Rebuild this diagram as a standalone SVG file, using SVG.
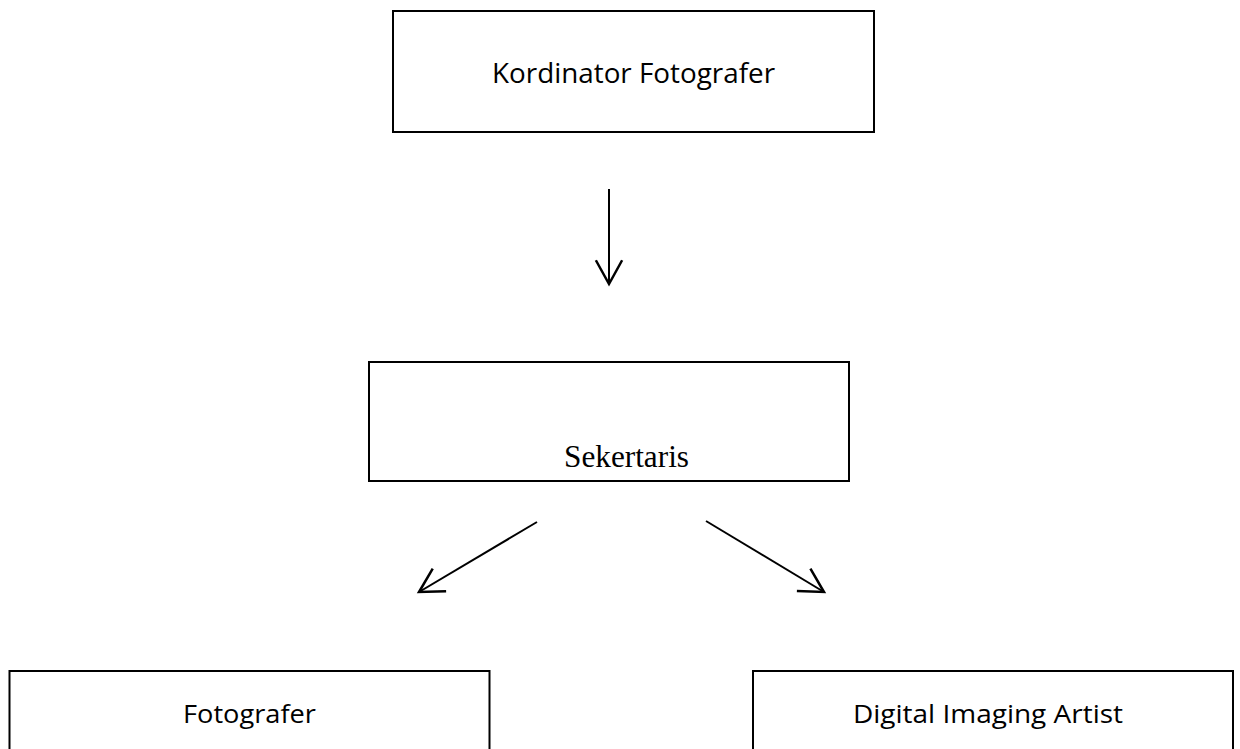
<svg xmlns="http://www.w3.org/2000/svg" width="1240" height="749" viewBox="0 0 1240 749">
  <style>
    .box { fill: #ffffff; stroke: #000000; stroke-width: 2; }
    .sans { font-family: "Open Sans", "Liberation Sans", sans-serif; fill: #000000; }
    .serif { font-family: "Liberation Serif", "DejaVu Serif", serif; fill: #000000; }
    .conn { fill: none; stroke: #000000; stroke-width: 2; }
  </style>
  <defs>
    <marker id="arrow" markerUnits="userSpaceOnUse" markerWidth="30" markerHeight="30" refX="0" refY="0" viewBox="-22 -12 24 24" orient="auto" overflow="visible">
      <path d="M -19 -10.5 L 0 0 L -19 10.5" fill="none" stroke="#000000" stroke-width="2"/>
    </marker>
  </defs>
  <rect width="1240" height="749" fill="#ffffff"/>

  <g id="node-kordinator">
    <rect class="box" x="393" y="11" width="481" height="121"/>
    <text class="sans" x="492" y="83" font-size="28" textLength="283" lengthAdjust="spacingAndGlyphs">Kordinator Fotografer</text>
  </g>

  <g id="node-sekertaris">
    <rect class="box" x="369" y="362" width="480" height="119"/>
    <text class="serif" x="564" y="467" font-size="31" textLength="125" lengthAdjust="spacingAndGlyphs">Sekertaris</text>
  </g>

  <g id="node-fotografer">
    <rect class="box" x="9.5" y="671" width="480" height="100"/>
    <text class="sans" x="183" y="723" font-size="26" textLength="133" lengthAdjust="spacingAndGlyphs">Fotografer</text>
  </g>

  <g id="node-digital">
    <rect class="box" x="753" y="671" width="480" height="100"/>
    <text class="sans" x="853" y="723" font-size="26" textLength="270" lengthAdjust="spacingAndGlyphs">Digital Imaging Artist</text>
  </g>

  <g id="connectors">
    <line class="conn" x1="609" y1="189" x2="609" y2="284" marker-end="url(#arrow)"/>
    <line class="conn" x1="537" y1="522" x2="419" y2="592" marker-end="url(#arrow)"/>
    <line class="conn" x1="706" y1="521" x2="824" y2="592" marker-end="url(#arrow)"/>
  </g>
</svg>
